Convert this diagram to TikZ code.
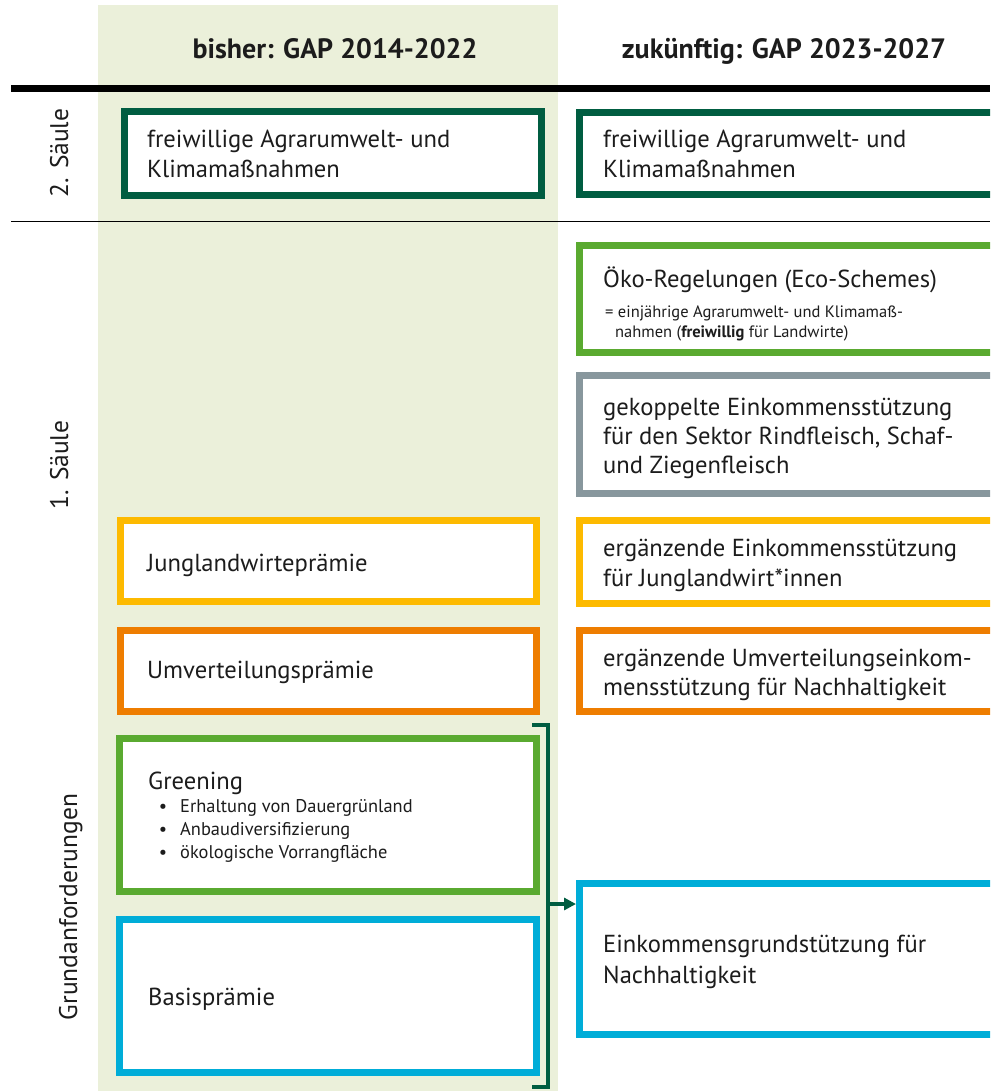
\documentclass[tikz,border=0pt]{standalone}
\usepackage{fontspec}
\setmainfont{PT Sans}
\usetikzlibrary{arrows.meta}
\definecolor{ink}{HTML}{1C1C1C}
\definecolor{dkgreen}{HTML}{005D41}
\definecolor{ltgreen}{HTML}{5AAA30}
\definecolor{slate}{HTML}{88979D}
\definecolor{amber}{HTML}{FDBA00}
\definecolor{tangerine}{HTML}{EE7D00}
\definecolor{cyanblue}{HTML}{00ADD8}
\definecolor{colbg}{HTML}{EBF0DA}
% box from outer corners: name, colour, x1, y1, x2, y2
\newcommand{\gapbox}[6]{%
  \node[gbox,draw=#2,minimum width={#5-#3-7},minimum height={#6-#4-7}]
    (#1) at ({(#3+#5)/2},{(#4+#6)/2}) {};}
\begin{document}
\begin{tikzpicture}[x=1pt,y=-1pt,
  gbox/.style={rectangle,fill=white,line width=7pt,inner sep=0pt},
  txt/.style={anchor=base west,inner sep=0pt,text=ink,font=\fontsize{24.6}{30}\selectfont},
  small/.style={anchor=base west,inner sep=0pt,text=ink,font=\fontsize{16.5}{20}\selectfont},
  bullet/.style={anchor=base west,inner sep=0pt,text=ink,font=\fontsize{18.4}{23}\selectfont},
  hdr/.style={anchor=base,inner sep=0pt,text=ink,font=\fontsize{28}{32}\selectfont\bfseries},
  side/.style={anchor=base,inner sep=0pt,rotate=90,text=ink,font=\fontsize{25.5}{30}\selectfont},
  bracket/.style={draw=dkgreen,line width=4pt}]
\clip (0,0) rectangle (990,1091);
% shaded column for the current period
\fill[colbg] (98,5) rectangle (558,1091);
% horizontal rules
\draw[line width=7pt] (11,88.5) -- (990,88.5);
\draw[line width=1.5pt] (11,221.5) -- (990,221.5);
% column headings
\node[hdr] (hleft) at (335,59) {bisher: GAP 2014-2022};
\node[hdr] (hright) at (784,59) {zukünftig: GAP 2023-2027};
% row labels
\node[side] (s2) at (68,153) {2. Säule};
\node[side] (s1) at (68,465) {1. Säule};
\node[side] (sg) at (77,907) {Grundanforderungen};
% 2. Säule
\gapbox{auml}{dkgreen}{121}{108}{545}{199}
\node[txt] (auml1) at (147,148) {freiwillige Agrarumwelt- und};
\node[txt] (auml2) at (147,178) {Klimamaßnahmen};
\gapbox{aumr}{dkgreen}{576}{109}{1000}{198}
\node[txt] (aumr1) at (603,148) {freiwillige Agrarumwelt- und};
\node[txt] (aumr2) at (603,178) {Klimamaßnahmen};
% Öko-Regelungen
\gapbox{eco}{ltgreen}{576}{242}{1000}{356}
\node[txt] (eco1) at (603,287) {Öko-Regelungen (Eco-Schemes)};
\node[small] (eco2) at (605,317) {= einjährige Agrarumwelt- und Klimamaß-};
\node[small] (eco3) at (615,337) {nahmen (\textbf{freiwillig} für Landwirte)};
% gekoppelte Einkommensstützung
\gapbox{cpl}{slate}{576}{372}{1000}{497}
\node[txt] (cpl1) at (603,415) {gekoppelte Einkommensstützung};
\node[txt] (cpl2) at (603,444) {für den Sektor Rindfleisch, Schaf-};
\node[txt] (cpl3) at (603,473) {und Ziegenfleisch};
% Junglandwirte
\gapbox{jungl}{amber}{117}{517}{540}{605}
\node[txt] (jungl1) at (147,571) {Junglandwirteprämie};
\gapbox{jungr}{amber}{576}{517}{1000}{607}
\node[txt] (jungr1) at (603,556) {ergänzende Einkommensstützung};
\node[txt] (jungr2) at (603,586) {für Junglandwirt*innen};
% Umverteilung
\gapbox{umvl}{tangerine}{117}{627}{540}{715}
\node[txt] (umvl1) at (147,678) {Umverteilungsprämie};
\gapbox{umvr}{tangerine}{576}{627}{1000}{715}
\node[txt] (umvr1) at (603,666) {ergänzende Umverteilungseinkom-};
\node[txt] (umvr2) at (603,695) {mensstützung für Nachhaltigkeit};
% Greening
\gapbox{grn}{ltgreen}{116}{735}{540}{895}
\node[txt] (grn1) at (148,789) {Greening};
\node[bullet,anchor=base] (gb1) at (163,812) {•};
\node[bullet] (grn2) at (180,812) {Erhaltung von Dauergrünland};
\node[bullet,anchor=base] (gb2) at (163,835) {•};
\node[bullet] (grn3) at (180,835) {Anbaudiversifizierung};
\node[bullet,anchor=base] (gb3) at (163,858) {•};
\node[bullet] (grn4) at (180,858) {ökologische Vorrangfläche};
% Basisprämie
\gapbox{basl}{cyanblue}{116}{916}{540}{1076}
\node[txt] (basl1) at (148,1005) {Basisprämie};
\gapbox{basr}{cyanblue}{576}{880}{1000}{1038}
\node[txt] (basr1) at (603,952) {Einkommensgrundstützung für};
\node[txt] (basr2) at (603,983) {Nachhaltigkeit};
% bracket joining Greening and Basisprämie
\coordinate (bt1) at (532,725);
\coordinate (bt2) at (548,725);
\coordinate (bb2) at (548,1087);
\coordinate (bb1) at (532,1087);
\coordinate (bm) at (548,904);
\draw[bracket] (bt1) -- (bt2) -- (bb2) -- (bb1);
\draw[bracket,-{Triangle[length=12pt,width=12pt]}] (bm) -- (bm -| basr.west);
\end{tikzpicture}
\end{document}
